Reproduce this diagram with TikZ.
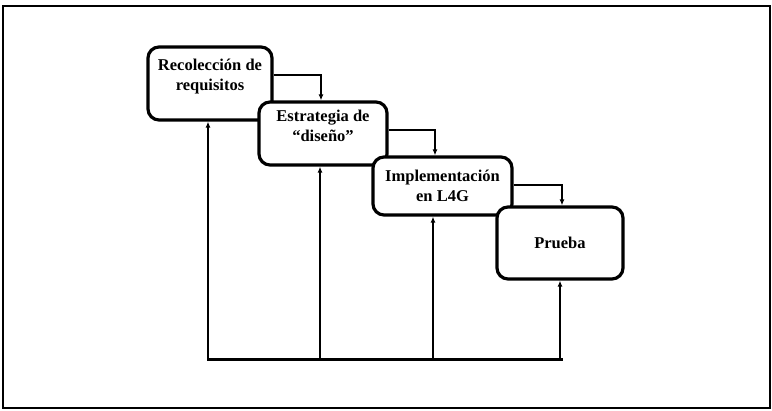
\documentclass[tikz,border=0pt]{standalone}
\usepackage{fontspec}
\setmainfont{Liberation Serif}
\usetikzlibrary{arrows.meta, positioning}

\tikzset{
  stage/.style={draw, fill=white, line width=3.2pt, rounded corners=11pt},
  stagetext/.style={font=\fontsize{16.5}{20}\selectfont\bfseries, align=center},
  link/.style={line width=1.3pt, -{Latex[length=6pt,width=5pt]}},
  feed/.style={line width=1.3pt, -{Latex[length=6pt,width=5pt]}}
}

\begin{document}
\begin{tikzpicture}[x=1pt, y=-1pt]
  \useasboundingbox (0,0) rectangle (772,411);
  % Frame
  \draw[line width=1.3pt] (3,6) rectangle (770,408);
  % Stages
  \node[stage, minimum width=124pt, minimum height=73pt] (rec) at (210,83.5) {};
  \node[stagetext] (recT) at ([yshift=7pt]rec.center) {Recolección de\\requisitos};
  \node[stage, minimum width=128pt, minimum height=63pt] (est) at (323,133.5) {};
  \node[stagetext] (estT) at ([yshift=8pt]est.center) {Estrategia de\\“diseño”};
  \node[stage, minimum width=139pt, minimum height=58pt] (imp) at (442.5,186) {};
  \node[stagetext] (impT) at (imp.center) {Implementación\\en L4G};
  \node[stage, minimum width=126pt, minimum height=72pt] (pru) at (560,243) {};
  \node[stagetext] (pruT) at (pru.center) {Prueba};
  % Forward links
  \draw[link] ([yshift=8.5pt]rec.east) -| ([xshift=-2pt]est.north);
  \draw[link] ([yshift=3.5pt]est.east) -| ([xshift=-7.5pt]imp.north);
  \draw[link] ([yshift=1pt]imp.east) -| ([xshift=2pt]pru.north);
  % Feedback bus
  \coordinate (bus) at (0,360);
  \draw[line width=3pt] ([xshift=-2.6pt]rec.south |- bus) -- ([xshift=2.6pt]pru.south |- bus);
  \draw[feed] ([xshift=-2pt]rec.south |- bus) -- ([xshift=-2pt]rec.south);
  \draw[feed] ([xshift=-3pt]est.south |- bus) -- ([xshift=-3pt]est.south);
  \draw[feed] ([xshift=-9.5pt]imp.south |- bus) -- ([xshift=-9.5pt]imp.south);
  \draw[feed] ([xshift=0pt]pru.south |- bus) -- ([xshift=0pt]pru.south);
\end{tikzpicture}
\end{document}
